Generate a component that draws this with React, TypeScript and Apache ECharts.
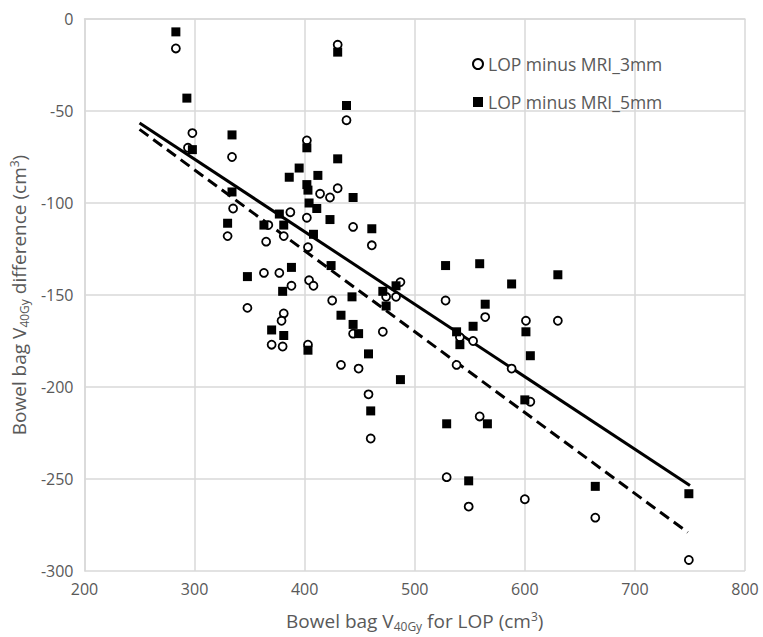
import React, { useEffect, useRef } from "react";
import * as echarts from "echarts";

// Bowel bag V40Gy for LOP (cm3), difference (cm3)
const circles3mm: [number, number][] = [
  [283, -16], [294, -70], [298, -62], [334, -75], [335, -103], [330, -118],
  [365, -121], [367, -112], [381, -118], [387, -105], [402, -66], [402, -108],
  [403, -124], [414, -95], [423, -97], [430, -92], [430, -14], [438, -55],
  [363, -138], [377, -138], [388, -145], [404, -142], [408, -145], [348, -157],
  [381, -160], [379, -164], [370, -177], [380, -178], [403, -177], [444, -113],
  [461, -123], [425, -153], [474, -151], [487, -143], [483, -151], [444, -171],
  [471, -170], [433, -188], [449, -190], [458, -204], [460, -228], [528, -153],
  [564, -162], [541, -173], [553, -175], [538, -188], [588, -190], [559, -216],
  [601, -164], [630, -164], [605, -208], [600, -261], [529, -249], [549, -265],
  [664, -271], [749, -294],
];

const squares5mm: [number, number][] = [
  [283, -7], [293, -43], [298, -71], [334, -63], [334, -94], [330, -111],
  [363, -112], [377, -106], [381, -112], [386, -86], [395, -81], [402, -70],
  [402, -90], [403, -93], [404, -100], [411, -103], [412, -85], [408, -117],
  [430, -18], [438, -47], [430, -76], [444, -97], [423, -109], [461, -114],
  [424, -134], [388, -135], [348, -140], [380, -148], [370, -169], [381, -172],
  [403, -180], [443, -151], [471, -148], [483, -145], [474, -156], [433, -161],
  [444, -166], [449, -171], [458, -182], [487, -196], [460, -213], [528, -134],
  [559, -133], [588, -144], [630, -139], [564, -155], [553, -167], [538, -170],
  [541, -177], [601, -170], [605, -183], [600, -207], [566, -220], [529, -220],
  [549, -251], [664, -254], [749, -258],
];

const trend3mm: [number, number][] = [[250, -60], [748, -279]];
const trend5mm: [number, number][] = [[250, -56.5], [750, -253.5]];

const seriesNames = ["LOP minus MRI_3mm", "LOP minus MRI_5mm"];

const FONT = "Open Sans";
const GRAY = "#595959";

export default function App() {
  const ref = useRef<HTMLDivElement>(null);
  useEffect(() => {
    document.body.style.margin = "0";
    const chart = echarts.init(ref.current!, null, { renderer: "svg" });
    const nameRich = {
      a: { fontSize: 19, color: GRAY, fontFamily: FONT },
      sub: { fontSize: 12, color: GRAY, fontFamily: FONT, verticalAlign: "bottom", padding: [10, 0, 0, 0] },
      sup: { fontSize: 12, color: GRAY, fontFamily: FONT, verticalAlign: "top", padding: [0, 0, 8, 0] },
    };
    chart.setOption({
      animation: false,
      backgroundColor: "#fff",
      textStyle: { fontFamily: FONT },
      grid: { left: 82, right: 18, top: 19, bottom: 64.5 },
      legend: {
        orient: "vertical",
        left: 467,
        top: 50,
        itemWidth: 10,
        itemHeight: 10,
        itemGap: 20,
        itemTextGap: 7,
        data: seriesNames,
        textStyle: { fontSize: 17.5, color: GRAY, fontFamily: FONT },
      },
      xAxis: {
        type: "value",
        min: 200,
        max: 800,
        interval: 100,
        name: "{a|Bowel bag V}{sub|40Gy}{a| for LOP (cm}{sup|3}{a|)}",
        nameLocation: "middle",
        nameGap: 39,
        nameTextStyle: { rich: nameRich },
        axisLine: { show: true, lineStyle: { color: "#d9d9d9", width: 1.5 } },
        axisTick: { show: false },
        axisLabel: { fontSize: 16, color: GRAY, margin: 10, fontFamily: FONT },
        splitLine: { lineStyle: { color: "#d9d9d9", width: 1.5 } },
      },
      yAxis: {
        type: "value",
        min: -300,
        max: 0,
        interval: 50,
        name: "{a|Bowel bag V}{sub|40Gy}{a| difference (cm}{sup|3}{a|)}",
        nameLocation: "middle",
        nameGap: 53,
        nameTextStyle: { rich: nameRich },
        axisLine: { show: true, onZero: false, lineStyle: { color: "#d9d9d9", width: 1.5 } },
        axisTick: { show: false },
        axisLabel: { fontSize: 16, color: GRAY, margin: 11, fontFamily: FONT },
        splitLine: { lineStyle: { color: "#d9d9d9", width: 1.5 } },
      },
      series: [
        {
          name: seriesNames[0],
          type: "scatter",
          symbol: "circle",
          symbolSize: 8,
          data: circles3mm,
          z: 3,
          itemStyle: { color: "#ffffff", borderColor: "#000000", borderWidth: 1.8, opacity: 1 },
        },
        {
          name: seriesNames[1],
          type: "scatter",
          symbol: "rect",
          symbolSize: 9,
          data: squares5mm,
          z: 4,
          itemStyle: { color: "#000000", opacity: 1 },
        },
        {
          name: "trend3mm",
          type: "line",
          data: trend3mm,
          symbol: "none",
          z: 2,
          lineStyle: { color: "#000", width: 3, type: [11, 6] },
        },
        {
          name: "trend5mm",
          type: "line",
          data: trend5mm,
          symbol: "none",
          z: 2,
          lineStyle: { color: "#000", width: 3 },
        },
      ],
    });
    return () => chart.dispose();
  }, []);
  return <div ref={ref} style={{ width: 763, height: 637 }} />;
}
